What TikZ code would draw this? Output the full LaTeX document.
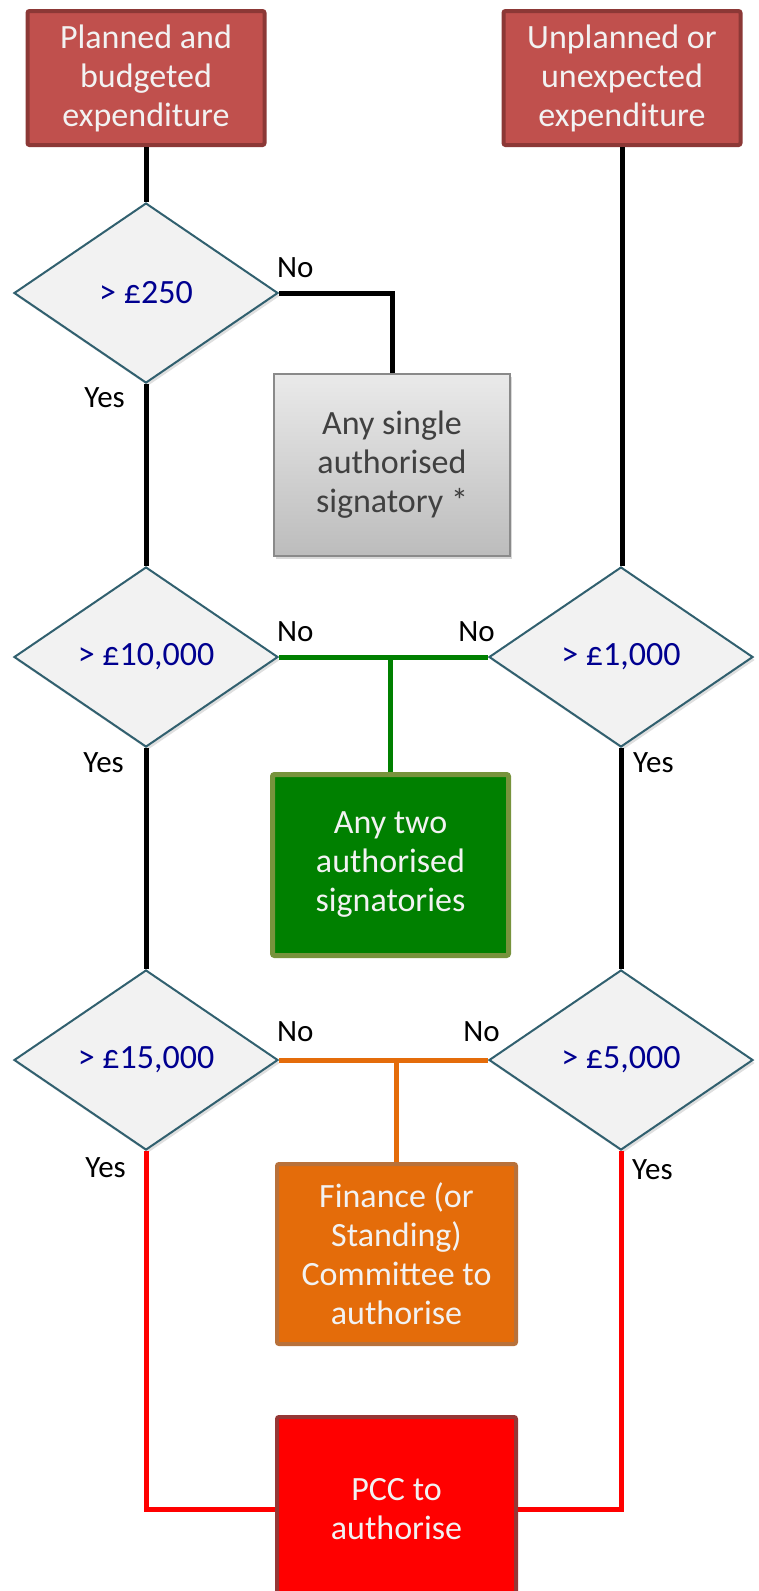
\documentclass[tikz,border=0pt]{standalone}
\usepackage{fontspec}
\setmainfont{Carlito}
\usetikzlibrary{positioning,shapes.geometric,shadows}

\definecolor{headred}{HTML}{C0504D}
\definecolor{headredline}{HTML}{8C3836}
\definecolor{boxtext}{HTML}{F2F2F2}
\definecolor{decfill}{HTML}{F2F2F2}
\definecolor{decline}{HTML}{31606F}
\definecolor{dectext}{HTML}{000090}
\definecolor{greytop}{HTML}{EAEAEA}
\definecolor{greybot}{HTML}{BCBCBC}
\definecolor{greyline}{HTML}{8A8A8A}
\definecolor{greytext}{HTML}{404040}
\definecolor{twogreen}{HTML}{008000}
\definecolor{twogreenline}{HTML}{77933C}
\definecolor{finorange}{HTML}{E46C0A}
\definecolor{finorangeline}{HTML}{B8713A}
\definecolor{pccred}{HTML}{FF0000}
\definecolor{pccredline}{HTML}{953735}

\begin{document}
\begin{tikzpicture}
      [ x=1pt, y=-1pt,
        boxfont/.style={font=\fontsize{34}{39}\selectfont, align=center, inner sep=0pt},
        startbox/.style={rectangle, boxfont, draw=headredline, fill=headred, text=boxtext,
          line width=4pt, rounded corners=2pt, minimum width=237pt, minimum height=134pt},
        decision/.style={diamond, draw=decline, fill=decfill, text=dectext, line width=2pt,
          font=\fontsize{34}{39}\selectfont, inner sep=0pt,
          minimum width=264pt, minimum height=180pt,
          drop shadow={shadow xshift=2pt, shadow yshift=-3pt, opacity=0.25}},
        singlebox/.style={rectangle, boxfont, draw=greyline, top color=greytop, bottom color=greybot,
          text=greytext, line width=2pt, minimum width=236pt, minimum height=182pt,
          drop shadow={shadow xshift=2pt, shadow yshift=-3pt, opacity=0.3}},
        twobox/.style={rectangle, boxfont, draw=twogreenline, fill=twogreen, text=boxtext,
          line width=5pt, rounded corners=2pt, minimum width=236pt, minimum height=181pt},
        finbox/.style={rectangle, boxfont, draw=finorangeline, fill=finorange, text=boxtext,
          line width=4pt, rounded corners=2pt, minimum width=239pt, minimum height=180pt},
        pccbox/.style={rectangle, boxfont, draw=pccredline, fill=pccred, text=boxtext,
          line width=4pt, rounded corners=2pt, minimum width=239pt, minimum height=184pt},
        flow/.style={line width=5pt},
        answer/.style={font=\fontsize{31}{36}\selectfont, inner sep=1pt}
      ]
      \useasboundingbox (0,0) rectangle (759,1591);

      \node[startbox]   (planned)   at (146,78)                          {Planned and\\budgeted\\expenditure};
      \node[startbox]   (unplanned) [right=235pt of planned]             {Unplanned or\\unexpected\\expenditure};
      \node[decision]   (gt250)     [below=55pt of planned]              {> £250};
      \node[decision]   (gt10k)     [below=182pt of gt250]               {> £10,000};
      \node[decision]   (gt15k)     [below=221pt of gt10k]               {> £15,000};
      \node[decision]   (gt1k)      [right=209pt of gt10k]               {> £1,000};
      \node[decision]   (gt5k)      [right=209pt of gt15k]               {> £5,000};
      \node[singlebox]  (single)    [below right=80pt and -6pt of gt250.east]  {Any single\\authorised\\signatory *};
      \node[twobox]     (two)       [below right=115pt and -9pt of gt10k.east] {Any two\\authorised\\signatories};
      \node[finbox]     (finance)   [below right=102pt and -4pt of gt15k.east] {Finance (or\\Standing)\\Committee to\\authorise};
      \node[pccbox]     (pcc)       [below=69pt of finance]              {PCC to\\authorise};

      % yes / no labels
      \node[answer]     (no250)     [above right=14pt and -3pt of gt250.east]  {No};
      \node[answer]     (no10k)     [above right=14pt and -3pt of gt10k.east]  {No};
      \node[answer]     (no1k)      [above left=14pt and -8pt of gt1k.west]    {No};
      \node[answer]     (no15k)     [above right=17pt and -3pt of gt15k.east]  {No};
      \node[answer]     (no5k)      [above left=17pt and -13pt of gt5k.west]   {No};
      \node[answer]     (yes250)    [below left=2pt and 20pt of gt250.south]   {Yes};
      \node[answer]     (yes10k)    [below left=3pt and 21pt of gt10k.south]   {Yes};
      \node[answer]     (yes1k)     [below right=3pt and 11pt of gt1k.south]   {Yes};
      \node[answer]     (yes15k)    [below left=5pt and 19pt of gt15k.south]   {Yes};
      \node[answer]     (yes5k)     [below right=7pt and 10pt of gt5k.south]   {Yes};

      \draw[flow] (planned) -- (gt250);
      \draw[flow] (gt250) -- (gt10k);
      \draw[flow] (gt10k) -- (gt15k);
      \draw[flow] (unplanned.south) -- (unplanned.south |- gt1k.north);
      \draw[flow] (gt1k) -- (gt5k);
      \draw[flow] (gt250.east) -| (single.north);

      \draw[flow, twogreen]  (gt10k.east) -- (gt1k.west);
      \draw[flow, twogreen]  (two.north) -- (two.north |- gt10k.east);
      \draw[flow, finorange] (gt15k.east) -- (gt5k.west);
      \draw[flow, finorange] (finance.north) -- (finance.north |- gt15k.east);
      \draw[flow, pccred]    (gt15k.south) |- (pcc.west);
      \draw[flow, pccred]    (gt5k.south) |- (pcc.east);

    \end{tikzpicture}
\end{document}
